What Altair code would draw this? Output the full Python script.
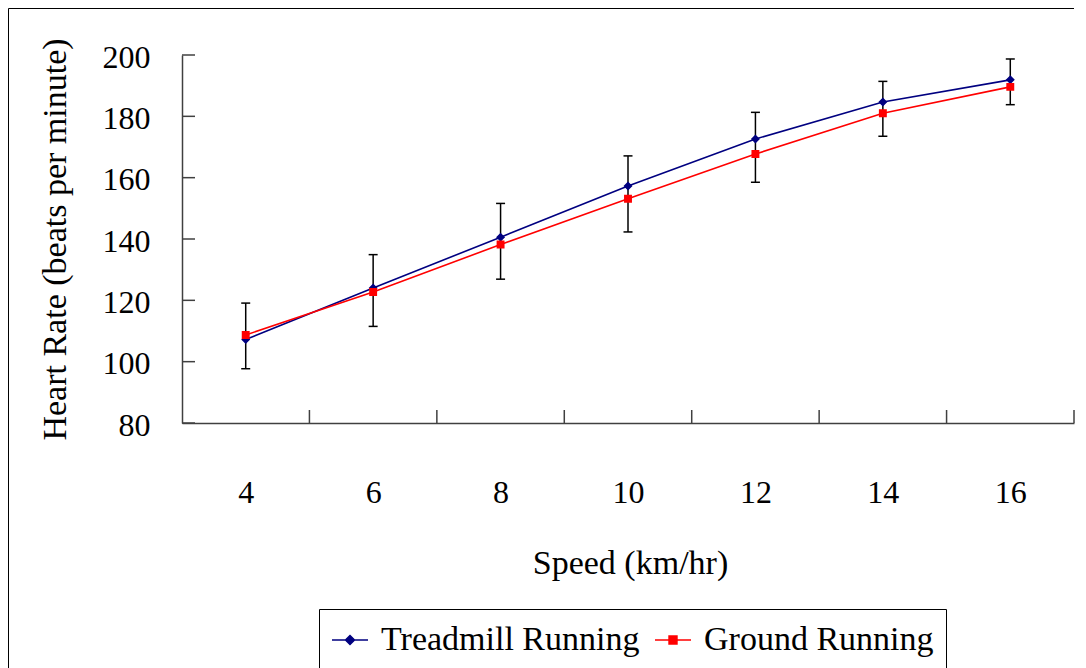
import altair as alt
import pandas as pd

# ---- data ----
speeds = [4, 6, 8, 10, 12, 14, 16]
treadmill = [107.2, 124.0, 140.6, 157.3, 172.6, 184.7, 191.9]
ground = [108.7, 122.7, 138.2, 153.1, 167.7, 181.0, 189.6]
err_low = [97.7, 111.5, 126.9, 142.3, 158.5, 173.5, 183.8]
err_high = [119.1, 134.9, 151.6, 167.1, 181.3, 191.4, 198.7]
series_names = ["Treadmill Running", "Ground Running"]
series_colors = ["#000080", "#FF0000"]
y_ticks = [80, 100, 120, 140, 160, 180, 200]

# marker shapes: a short line through a diamond / a square (line part only shows in the legend)
series_symbols = [
    "M-1,0L1,0M0,-0.25L0.25,0L0,0.25L-0.25,0Z",
    "M-1,0L1,0M-0.22,-0.22L0.22,-0.22L0.22,0.22L-0.22,0.22Z",
]

FONT = "Liberation Serif"
AXIS_COLOR = "#404040"
PLOT_W = 892
PLOT_H = 368
SYMBOL_SIZE = 1296

df = pd.DataFrame({
    "speed": speeds * 2,
    "hr": treadmill + ground,
    "series": [series_names[0]] * len(speeds) + [series_names[1]] * len(speeds),
})
err = pd.DataFrame({"speed": speeds, "lo": err_low, "hi": err_high})
bounds = pd.DataFrame({"b": [s + 1 for s in speeds]})
yt = pd.DataFrame({"v": y_ticks})

x_scale = alt.Scale(domain=[min(speeds) - 1, max(speeds) + 1], nice=False, zero=False)
y_scale = alt.Scale(domain=[y_ticks[0], y_ticks[-1]], nice=False, zero=False)
color_scale = alt.Scale(domain=series_names, range=series_colors)
shape_scale = alt.Scale(domain=series_names, range=series_symbols)

x_axis = alt.Axis(
    values=speeds, title="Speed (km/hr)", ticks=False, tickSize=0, grid=False,
    labelFont=FONT, labelFontSize=32, labelPadding=79, labelBaseline="alphabetic",
    labelColor="black", labelFlush=False, labelOverlap=False,
    domainColor=AXIS_COLOR, domainWidth=1.5,
    titleFont=FONT, titleFontSize=34, titleFontWeight="normal", titleColor="black",
    titleX=448, titleY=150, titleBaseline="alphabetic", titleAlign="center",
)
y_axis = alt.Axis(
    values=y_ticks, title="Heart Rate (beats per minute)", ticks=False, tickSize=0, grid=False,
    labelFont=FONT, labelFontSize=32, labelPadding=32, labelAlign="right",
    labelBaseline="middle", labelColor="black", labelOffset=2, labelFlush=False,
    labelOverlap=False,
    domainColor=AXIS_COLOR, domainWidth=1.5,
    titleFont=FONT, titleFontSize=34, titleFontWeight="normal", titleColor="black",
    titleX=-127, titleY=184, titleAngle=270, titleBaseline="middle", titleAlign="center",
)


def X(field):
    return alt.X(field, scale=x_scale, axis=x_axis)


def Y(field):
    return alt.Y(field, scale=y_scale, axis=y_axis)


# outer chart frame (decoration): only the left and top edges fall inside the picture
one = pd.DataFrame({"a": [0]})
frame_left = alt.Chart(one).mark_rule(color="black", strokeWidth=1).encode(
    x=alt.value(-173.5), y=alt.value(-46.5), y2=alt.value(700)
)
frame_top = alt.Chart(one).mark_rule(color="black", strokeWidth=1).encode(
    x=alt.value(-173.5), x2=alt.value(PLOT_W), y=alt.value(-46.5)
)

# error bars
err_rule = alt.Chart(err).mark_rule(color="black", strokeWidth=1.5).encode(
    x=X("speed:Q"), y=Y("lo:Q"), y2="hi:Q",
)
cap_lo = alt.Chart(err).mark_tick(color="black", thickness=1.5, size=9, orient="horizontal", opacity=1).encode(
    x=X("speed:Q"), y=Y("lo:Q"),
)
cap_hi = alt.Chart(err).mark_tick(color="black", thickness=1.5, size=9, orient="horizontal", opacity=1).encode(
    x=X("speed:Q"), y=Y("hi:Q"),
)

# series: stroke for lines, fill + shape for markers -> one merged legend
lines = alt.Chart(df).mark_line(strokeWidth=1.6).encode(
    x=X("speed:Q"), y=Y("hr:Q"),
    stroke=alt.Stroke("series:N", scale=color_scale, title=None),
)
points = alt.Chart(df).mark_point(filled=True, opacity=1, size=SYMBOL_SIZE, strokeWidth=0).encode(
    x=X("speed:Q"), y=Y("hr:Q"),
    fill=alt.Fill("series:N", scale=color_scale, title=None),
    shape=alt.Shape("series:N", scale=shape_scale, title=None),
)

# inward ticks
y_tick_marks = alt.Chart(yt).mark_rule(color=AXIS_COLOR, strokeWidth=1.5).encode(
    y=Y("v:Q"), x=alt.value(0), x2=alt.value(13)
)
x_tick_marks = alt.Chart(bounds).mark_rule(color=AXIS_COLOR, strokeWidth=1.5).encode(
    x=X("b:Q"), y=alt.value(PLOT_H - 13), y2=alt.value(PLOT_H)
)

chart = alt.layer(
    frame_left, frame_top, err_rule, cap_lo, cap_hi, lines, points,
    y_tick_marks, x_tick_marks
).properties(
    width=PLOT_W, height=PLOT_H,
    autosize=alt.AutoSizeParams(type="none"),
    padding={"left": 174, "top": 47, "right": 1, "bottom": 245},
    background="white",
).configure_view(stroke=None).configure_legend(
    orient="none", legendX=137, legendY=554, direction="horizontal",
    strokeColor="black", strokeWidth=1, padding=12,
    labelFont=FONT, labelFontSize=34, labelColor="black", labelLimit=500,
    symbolSize=SYMBOL_SIZE, labelOffset=12, columnPadding=12, symbolStrokeWidth=1.5,
    symbolOpacity=1,
)

chart.save("out.html", embed_options={"renderer": "svg", "actions": False})
